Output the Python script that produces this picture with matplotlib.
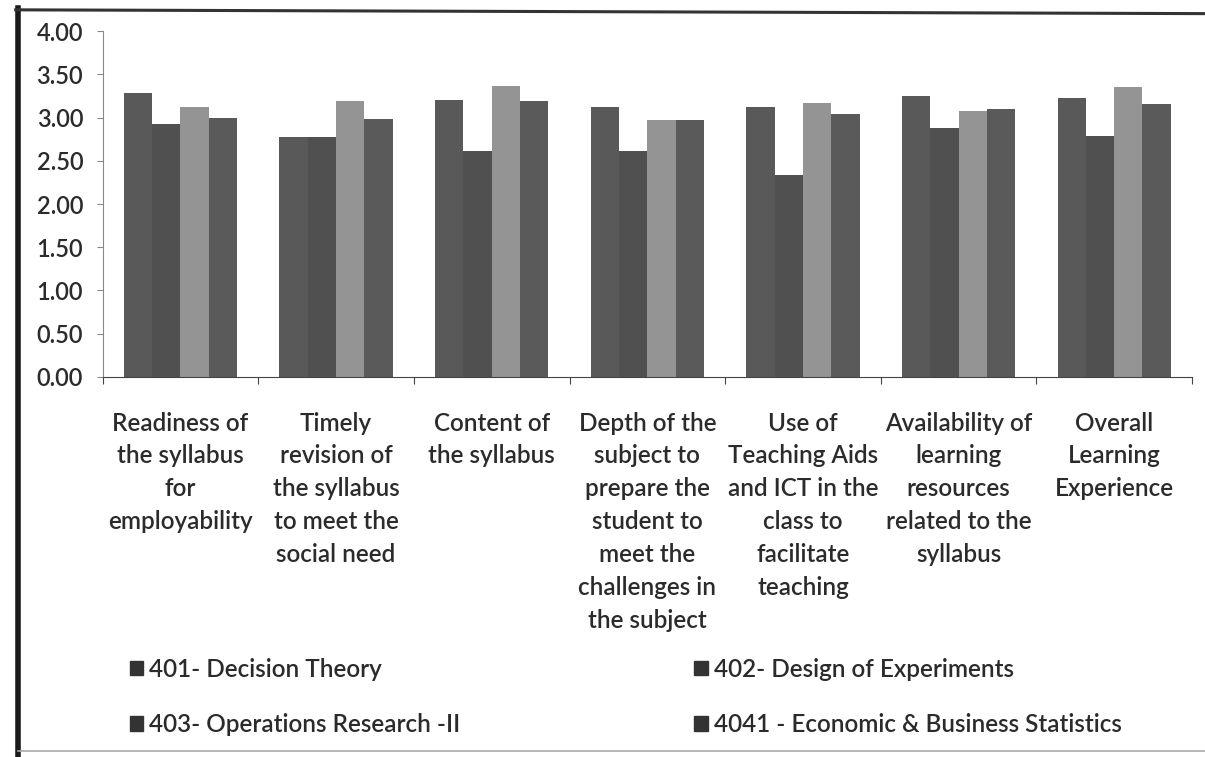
import matplotlib.pyplot as plt
import matplotlib.patches as mpatches
import matplotlib.lines as mlines
import numpy as np

# categories and values
categories = [
    'Readiness of\nthe syllabus\nfor\nemployability',
    'Timely\nrevision of\nthe syllabus\nto meet the\nsocial need',
    'Content of\nthe syllabus',
    'Depth of the\nsubject to\nprepare the\nstudent to\nmeet the\nchallenges in\nthe subject',
    'Use of\nTeaching Aids\nand ICT in the\nclass to\nfacilitate\nteaching',
    'Availability of\nlearning\nresources\nrelated to the\nsyllabus',
    'Overall\nLearning\nExperience',
]
series_names = ['401- Decision Theory', '402- Design of Experiments',
                '403- Operations Research -II', '4041 - Economic & Business Statistics']
s401 = [3.28, 2.77, 3.20, 3.12, 3.12, 3.25, 3.22]
s402 = [2.92, 2.77, 2.61, 2.61, 2.33, 2.88, 2.79]
s403 = [3.12, 3.19, 3.37, 2.97, 3.17, 3.08, 3.35]
s4041 = [2.99, 2.98, 3.19, 2.97, 3.04, 3.10, 3.16]
colors = ['#595959', '#505050', '#949494', '#5a5a5a']
txt = '#2b2b2b'

plt.rcParams['font.family'] = ['Lato', 'DejaVu Sans']
plt.rcParams['font.weight'] = 'semibold'

fig = plt.figure(figsize=(12.05, 7.57), dpi=100)
ax = fig.add_axes([0.0852, 0.502, 0.904, 0.457])

x = np.arange(len(categories))
w = 0.182
data = [s401, s402, s403, s4041]
for i, vals in enumerate(data):
    ax.bar(x + (i - 1.5) * w, vals, w, color=colors[i], label=series_names[i])

ax.set_xlim(-0.5, len(categories) - 0.5)
ax.set_ylim(0, 4)
yt = np.arange(0, 4.01, 0.5)
ax.set_yticks(yt)
ax.set_yticklabels(['%.2f' % v for v in yt], fontsize=17, color=txt)
ax.set_xticks(np.arange(-0.5, len(categories), 1))
ax.set_xticklabels([])
ax.tick_params(axis='x', length=5, color='#444')
ax.tick_params(axis='y', length=4, color='#888', pad=10)
for sp in ['top', 'right']:
    ax.spines[sp].set_visible(False)
ax.spines['left'].set_color('#888')
ax.spines['bottom'].set_color('#444')

for xi, lab in zip(x, categories):
    ax.text(xi, -0.40, lab, ha='center', va='top', fontsize=17.5, color=txt,
            linespacing=1.52, transform=ax.transData)

handles = [mpatches.Patch(color='#333333') for _ in series_names]
order = [0, 2, 1, 3]
leg = fig.legend([handles[i] for i in order], [series_names[i] for i in order],
                 ncol=2, loc='upper left', bbox_to_anchor=(0.0895, 0.16),
                 frameon=False, fontsize=17.5, handlelength=0.55, handleheight=0.55,
                 handletextpad=0.25, columnspacing=9.63, labelspacing=1.32)
for t in leg.get_texts():
    t.set_color(txt)

# scanned frame border
fig.lines.append(mlines.Line2D([0.015, 0.015], [0.0, 0.99], transform=fig.transFigure,
                               color='#1a1a1a', linewidth=4))
fig.lines.append(mlines.Line2D([0.013, 1.0], [0.987, 0.982], transform=fig.transFigure,
                               color='#333', linewidth=2.2))
fig.lines.append(mlines.Line2D([0.015, 1.0], [0.008, 0.008], transform=fig.transFigure,
                               color='#aaa', linewidth=1.2))

fig.savefig('out.png', dpi=100)
